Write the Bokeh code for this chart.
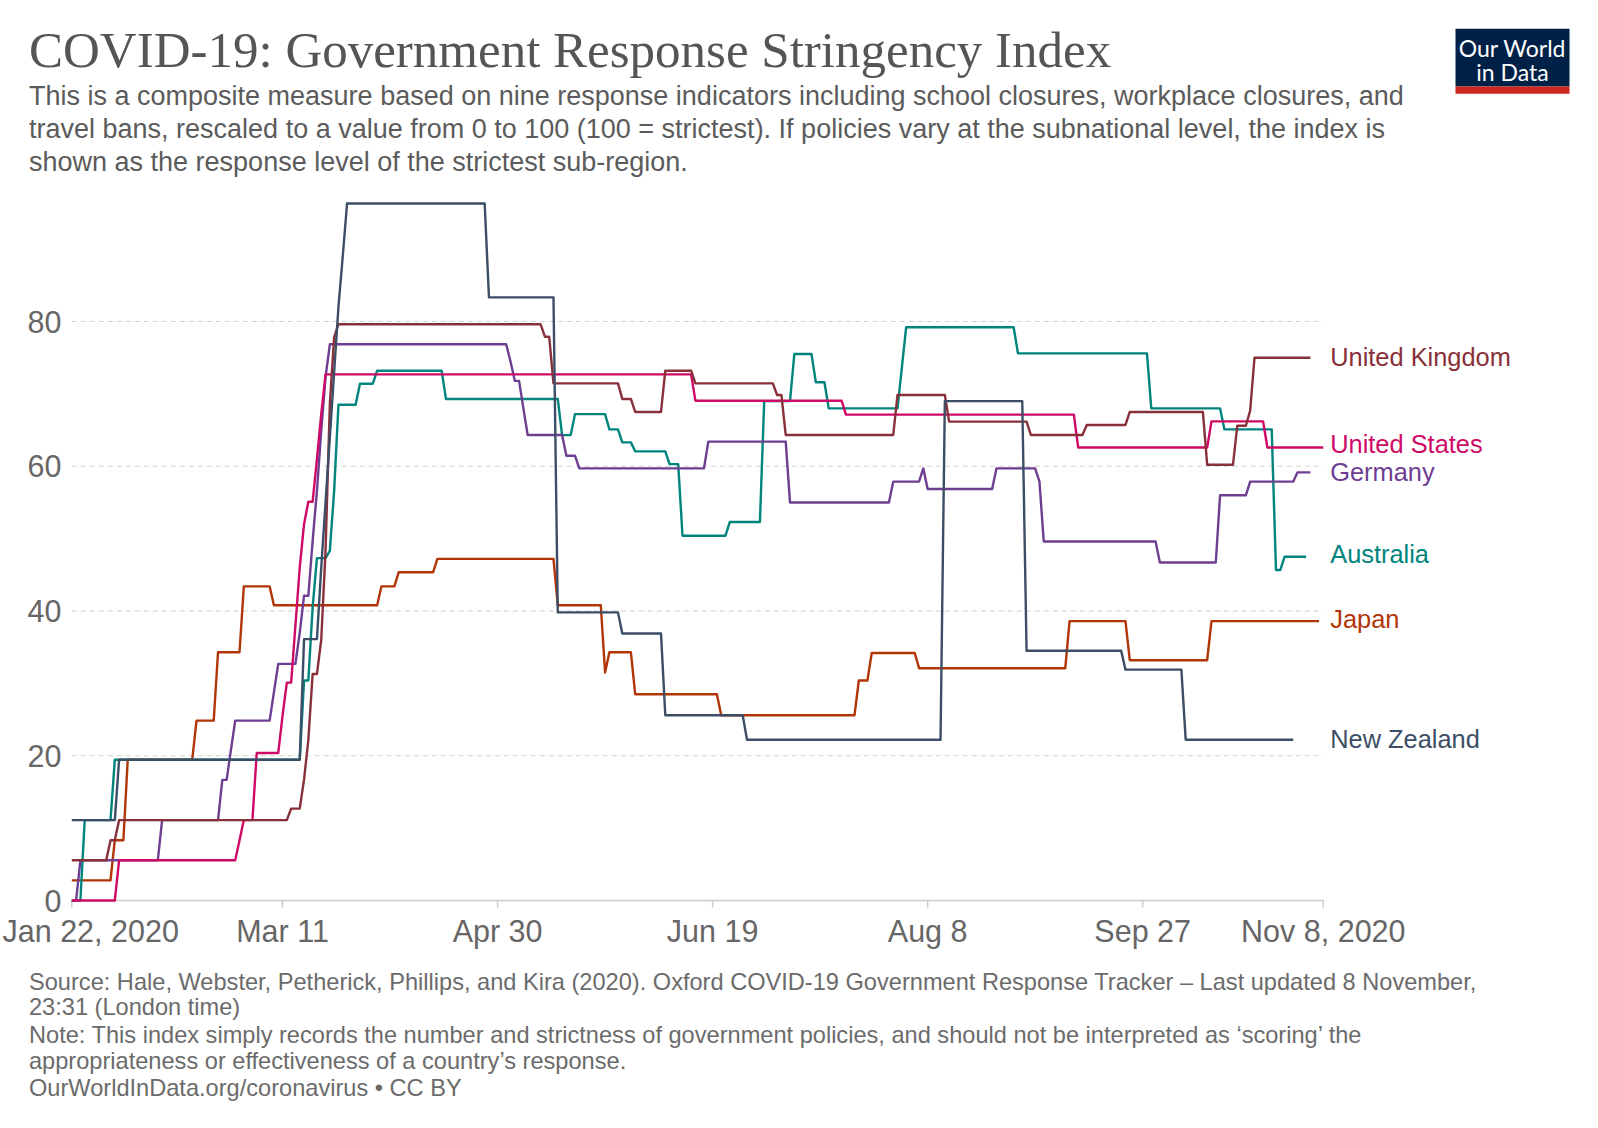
import numpy as np
import pandas as pd
from bokeh.plotting import figure
from bokeh.models import Range1d
from bokeh.embed import file_html
from bokeh.resources import INLINE
from bokeh.core.properties import value

# ---------------- data (days since Jan 22, 2020 where a new value applies) ----------------
START = pd.Timestamp("2020-01-22")

countries = ["Japan", "Australia", "Germany", "United States", "United Kingdom", "New Zealand"]
colors = {"United Kingdom": "#883039", "United States": "#cf0a66", "Germany": "#6d3e91",
          "Australia": "#00847e", "Japan": "#b13507", "New Zealand": "#3c4e66"}

uk_days = [0, 9, 11, 51, 54, 55, 56, 58, 59, 60, 61, 62, 110, 112, 128, 131, 138, 145, 164, 166,
           192, 204, 223, 236, 246, 264, 271, 274, 275]
uk_vals = [5.56, 8.33, 11.11, 12.7, 16.7, 22.2, 31.3, 36.0, 48.3, 68.6, 77.8, 79.63, 77.9, 71.45,
           69.3, 67.5, 73.2, 71.45, 69.85, 64.32, 69.85, 66.16, 64.32, 65.7, 67.5, 60.2, 65.6, 67.7, 75.0]
uk_end = 288

us_days = [0, 11, 39, 40, 43, 49, 50, 52, 53, 54, 55, 57, 58, 59, 145, 180, 234, 265, 278]
us_vals = [0, 5.56, 8.33, 11.11, 20.37, 25.5, 30.1, 38.0, 46.0, 52.0, 55.1, 61.0, 67.2, 72.69,
           69.06, 67.13, 62.6, 66.2, 62.6]
us_end = 291

de_days = [0, 2, 21, 35, 37, 38, 47, 48, 53, 54, 56, 57, 58, 59, 60, 102, 103, 105, 106, 115, 118,
           148, 167, 191, 198, 199, 215, 225, 226, 253, 267, 274, 285]
de_vals = [0, 5.56, 11.11, 16.67, 20.8, 24.86, 28.8, 32.7, 37.0, 42.1, 49.7, 56.6, 64.9, 72.3, 76.85,
           74.5, 71.8, 68.0, 64.32, 61.46, 59.7, 63.4, 55.0, 57.87, 59.7, 56.86, 59.7, 57.87, 49.6,
           46.7, 56.0, 57.87, 59.16]
de_end = 288

au_days = [0, 3, 10, 54, 56, 57, 60, 61, 62, 67, 71, 87, 114, 117, 125, 128, 131, 139, 142, 153,
           161, 168, 173, 176, 193, 194, 220, 251, 268, 280, 282]
au_vals = [0, 11.11, 19.44, 30.4, 40.5, 47.3, 48.3, 56.6, 68.5, 71.4, 73.2, 69.3, 64.3, 67.2, 65.1,
           63.3, 62.06, 60.3, 50.4, 52.3, 69.0, 75.5, 71.6, 68.0, 73.6, 79.2, 75.6, 68.0, 65.1,
           45.66, 47.5]
au_end = 287

jp_days = [0, 10, 13, 29, 34, 40, 47, 72, 76, 85, 113, 124, 125, 131, 151, 183, 186, 197, 232, 246, 265]
jp_vals = [2.78, 8.33, 19.44, 24.86, 34.3, 43.4, 40.8, 43.4, 45.35, 47.2, 40.8, 31.5, 34.3, 28.5,
           25.6, 30.4, 34.2, 32.1, 38.6, 33.2, 38.6]
jp_end = 290

nz_days = [0, 11, 54, 58, 59, 60, 61, 62, 63, 64, 97, 113, 128, 138, 157, 203, 222, 245, 259]
nz_vals = [11.11, 19.44, 36.11, 46.0, 55.0, 64.0, 73.0, 82.0, 89.0, 96.3, 83.33, 39.81, 36.9, 25.6,
           22.22, 69.0, 34.5, 31.9, 22.22]
nz_end = 284

series = {
    "United Kingdom": (uk_days, uk_vals, uk_end),
    "United States": (us_days, us_vals, us_end),
    "Germany": (de_days, de_vals, de_end),
    "Australia": (au_days, au_vals, au_end),
    "Japan": (jp_days, jp_vals, jp_end),
    "New Zealand": (nz_days, nz_vals, nz_end),
}

y_ticks = [0, 20, 40, 60, 80]
x_tick_dates = ["2020-01-22", "2020-03-11", "2020-04-30", "2020-06-19", "2020-08-08", "2020-09-27", "2020-11-08"]
x_tick_labels = ["Jan 22, 2020", "Mar 11", "Apr 30", "Jun 19", "Aug 8", "Sep 27", "Nov 8, 2020"]

title = "COVID-19: Government Response Stringency Index"
subtitle = [
    "This is a composite measure based on nine response indicators including school closures, workplace closures, and",
    "travel bans, rescaled to a value from 0 to 100 (100 = strictest). If policies vary at the subnational level, the index is",
    "shown as the response level of the strictest sub-region.",
]
footer = [
    "Source: Hale, Webster, Petherick, Phillips, and Kira (2020). Oxford COVID-19 Government Response Tracker \u2013 Last updated 8 November,",
    "23:31 (London time)",
    "Note: This index simply records the number and strictness of government policies, and should not be interpreted as \u2018scoring\u2019 the",
    "appropriateness or effectiveness of a country\u2019s response.",
    "OurWorldInData.org/coronavirus \u2022 CC BY",
]

# ---------------- layout helpers (canvas pixel -> data) ----------------
W, H = 1582, 1112
X0, PX_DAY = 71.3, 4.3007
Y0, PX_UNIT = 900.0, 7.2375
# small upward pixel nudges that keep end labels from colliding (style only)
label_nudge_px = {"United Kingdom": 1, "United States": 3.5, "Germany": 0, "Australia": 3,
                  "Japan": 2.5, "New Zealand": 0.5}


def xd(px):
    return START + pd.Timedelta(days=(px - X0) / PX_DAY)


def xa(pxs):
    return np.array([xd(px).to_datetime64() for px in pxs])


def yv(py):
    return (Y0 - py) / PX_UNIT


def to_dates(days):
    return (START + pd.to_timedelta(np.asarray(days, dtype=float), unit="D")).values


def step_points(days, vals, end):
    xs, ys = [], []
    for i, (d, v) in enumerate(zip(days, vals)):
        xs.append(d)
        ys.append(v)
        nxt = days[i + 1] if i + 1 < len(days) else end
        if nxt - 1 > d:
            xs.append(nxt - 1 if i + 1 < len(days) else end)
            ys.append(v)
    return to_dates(xs), ys


p = figure(width=W, height=H, output_backend="svg", toolbar_location=None,
           x_axis_location=None, y_axis_location=None, min_border=0,
           x_range=Range1d(xd(0), xd(W)), y_range=Range1d(yv(H), yv(0)))
p.outline_line_color = None
p.xgrid.visible = False
p.ygrid.visible = False
p.background_fill_color = "white"

SANS = value("Liberation Sans")

# grid lines
gy = [t for t in y_ticks if t > 0]
x_first = pd.Timestamp(x_tick_dates[0]).to_datetime64()
x_last = pd.Timestamp(x_tick_dates[-1]).to_datetime64()
p.segment(x0=[x_first] * len(gy), y0=gy, x1=[x_last] * len(gy), y1=gy,
          line_color="#d2d2d2", line_width=1.2, line_dash="5 4")

# x axis line and ticks
p.segment(x0=[x_first], y0=[0], x1=[x_last], y1=[0], line_color="#cccccc", line_width=1.5)
tick_x = np.array([pd.Timestamp(d).to_datetime64() for d in x_tick_dates])
p.segment(x0=tick_x, y0=[0] * len(tick_x), x1=tick_x, y1=[yv(Y0 + 7)] * len(tick_x),
          line_color="#cccccc", line_width=1.5)

# tick labels
p.text(x=tick_x[1:], y=[yv(930.5)] * (len(tick_x) - 1), text=x_tick_labels[1:],
       text_font=SANS, text_font_size="30.5px", text_color="#666666",
       text_align="center", text_baseline="middle")
p.text(x=xa([2]), y=[yv(930.5)], text=x_tick_labels[:1],
       text_font=SANS, text_font_size="30.5px", text_color="#666666",
       text_align="left", text_baseline="middle")
p.text(x=xa([61] * len(y_ticks)), y=y_ticks, text=[str(t) for t in y_ticks],
       text_font=SANS, text_font_size="30.5px", text_color="#666666",
       text_align="right", text_baseline="middle")

# series
for name in countries:
    d, v, e = series[name]
    xs, ys = step_points(d, v, e)
    p.line(x=xs, y=ys, line_color=colors[name], line_width=2.4, line_join="round")

# line labels
names = list(series.keys())
p.text(x=xa([1329.7] * len(names)),
       y=[series[n][1][-1] + label_nudge_px[n] / PX_UNIT for n in names], text=names,
       text_font=SANS, text_font_size="25.4px", text_color=[colors[n] for n in names],
       text_align="left", text_baseline="middle")

# title / subtitle / footer
p.text(x=xa([28.5]), y=[yv(49.5)], text=[title], text_font=value("Liberation Serif"),
       text_font_size="51px", text_color="#555555", text_align="left", text_baseline="middle")
p.text(x=xa([28.5] * 3), y=[yv(c) for c in (95.8, 128.4, 161.0)], text=subtitle,
       text_font=SANS, text_font_size="27px", text_color="#5b5b5b",
       text_align="left", text_baseline="middle")
p.text(x=xa([28.5] * 5), y=[yv(c) for c in (981.4, 1006.9, 1034.4, 1060.9, 1087.4)], text=footer,
       text_font=SANS, text_font_size="23.6px", text_color="#6b6b6b",
       text_align="left", text_baseline="middle")

# logo
p.quad(left=xa([1455]), right=xa([1569]), top=[yv(28.3)], bottom=[yv(86)],
       fill_color="#002147", line_color=None)
p.quad(left=xa([1455]), right=xa([1569]), top=[yv(86)], bottom=[yv(93.3)],
       fill_color="#ce261e", line_color=None)
p.text(x=xa([1512, 1512]), y=[yv(47), yv(71)], text=["Our World", "in Data"],
       text_font=value("Lato"), text_font_size="23px", text_color="white",
       text_align="center", text_baseline="middle")

open("out.html", "w").write(file_html(p, INLINE))
